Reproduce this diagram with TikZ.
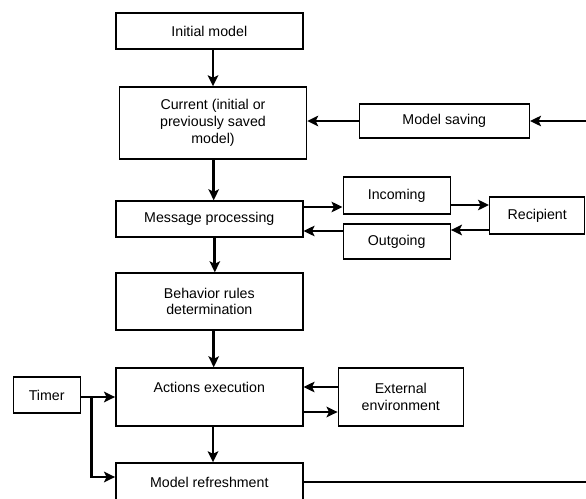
\documentclass[tikz,border=0pt]{standalone}
\usepackage{fontspec}
\setmainfont{Liberation Sans}
\usetikzlibrary{arrows.meta,calc}
\begin{document}
\begin{tikzpicture}[x=1pt,y=-1pt,
  box/.style={draw=black, line width=1.4pt, align=center, inner sep=0pt,
    font=\fontsize{14.2}{16.8}\selectfont},
  arr/.style={line width=2.8pt, -{Stealth[length=11pt,width=10.5pt,inset=2.5pt]}},
  thin/.style={line width=1.2pt}]
\clip (0,0) rectangle (586,498);
\fill[white] (0,0) rectangle (586,498);

\node[box, minimum width=187pt, minimum height=36pt] (init) at (209.3,31) {Initial model};
\node[box, minimum width=187pt, minimum height=72pt] (cur) at (213,123) {Current (initial or\\previously saved\\model)};
\node[box, minimum width=170pt, minimum height=34pt] (sav) at (444.3,121) {Model saving};
\node[box, minimum width=187pt, minimum height=36pt] (msg) at (209.3,219) {Message processing};
\node[box, minimum width=107pt, minimum height=37pt] (inc) at (396.7,195.5) {Incoming};
\node[box, minimum width=107pt, minimum height=35pt] (out) at (396.7,241.5) {Outgoing};
\node[box, minimum width=95pt, minimum height=37pt] (rec) at (537.2,215.5) {Recipient};
\node[box, minimum width=187pt, minimum height=57pt] (beh) at (209.3,301.5) {Behavior rules\\determination};
\node[box, minimum width=187pt, minimum height=58pt, text height=10pt, text depth=20pt] (act) at (209.3,397) {Actions execution};
\node[box, minimum width=125pt, minimum height=58pt] (ext) at (400.8,397) {External\\environment};
\node[box, minimum width=67pt, minimum height=36pt] (tim) at (46.7,395) {Timer};
\node[box, minimum width=187pt, minimum height=38pt] (ref) at (209.3,482) {Model refreshment};

\coordinate (inR) at (586,121);
\coordinate (outR) at (586,482);
\coordinate (br) at (91.6,397);

\draw[arr] ([xshift=3.7pt]init.south) -- ([xshift=3.7pt]init.south |- cur.north);
\draw[arr] ([xshift=0.7pt]cur.south) -- ([xshift=0.7pt]cur.south |- msg.north);
\draw[arr] ([xshift=5.5pt]msg.south) -- ([xshift=5.5pt]msg.south |- beh.north);
\draw[arr] ([xshift=4.4pt]beh.south) -- ([xshift=4.4pt]beh.south |- act.north);
\draw[arr] ([xshift=3.7pt]act.south) -- ([xshift=3.7pt]act.south |- ref.north);

\draw[arr] (inR) -- (sav.east);
\draw[arr] (sav.west) -- (sav.west -| cur.east);

\draw[arr] ([yshift=12pt]msg.east) -- ([yshift=12pt]msg.east -| inc.west);
\draw[arr] ([yshift=-9.5pt]inc.east) -- ([yshift=-9.5pt]inc.east -| rec.west);
\draw[arr] ([yshift=-14.5pt]rec.west) -- ([yshift=-14.5pt]rec.west -| out.east);
\draw[arr] ([yshift=10.5pt]out.west) -- ([yshift=10.5pt]out.west -| msg.east);

\draw[arr] ([yshift=10pt]ext.west) -- ([yshift=10pt]ext.west -| act.east);
\draw[arr] ([yshift=-15pt]act.east) -- ([yshift=-15pt]act.east -| ext.west);

\draw[arr] ([yshift=-2pt]tim.east) -- ([yshift=-2pt]tim.east -| act.west);
\draw[arr] (br) |- ([yshift=5pt]ref.west);

\draw[thin] (ref.east) -- (outR);
\end{tikzpicture}
\end{document}
